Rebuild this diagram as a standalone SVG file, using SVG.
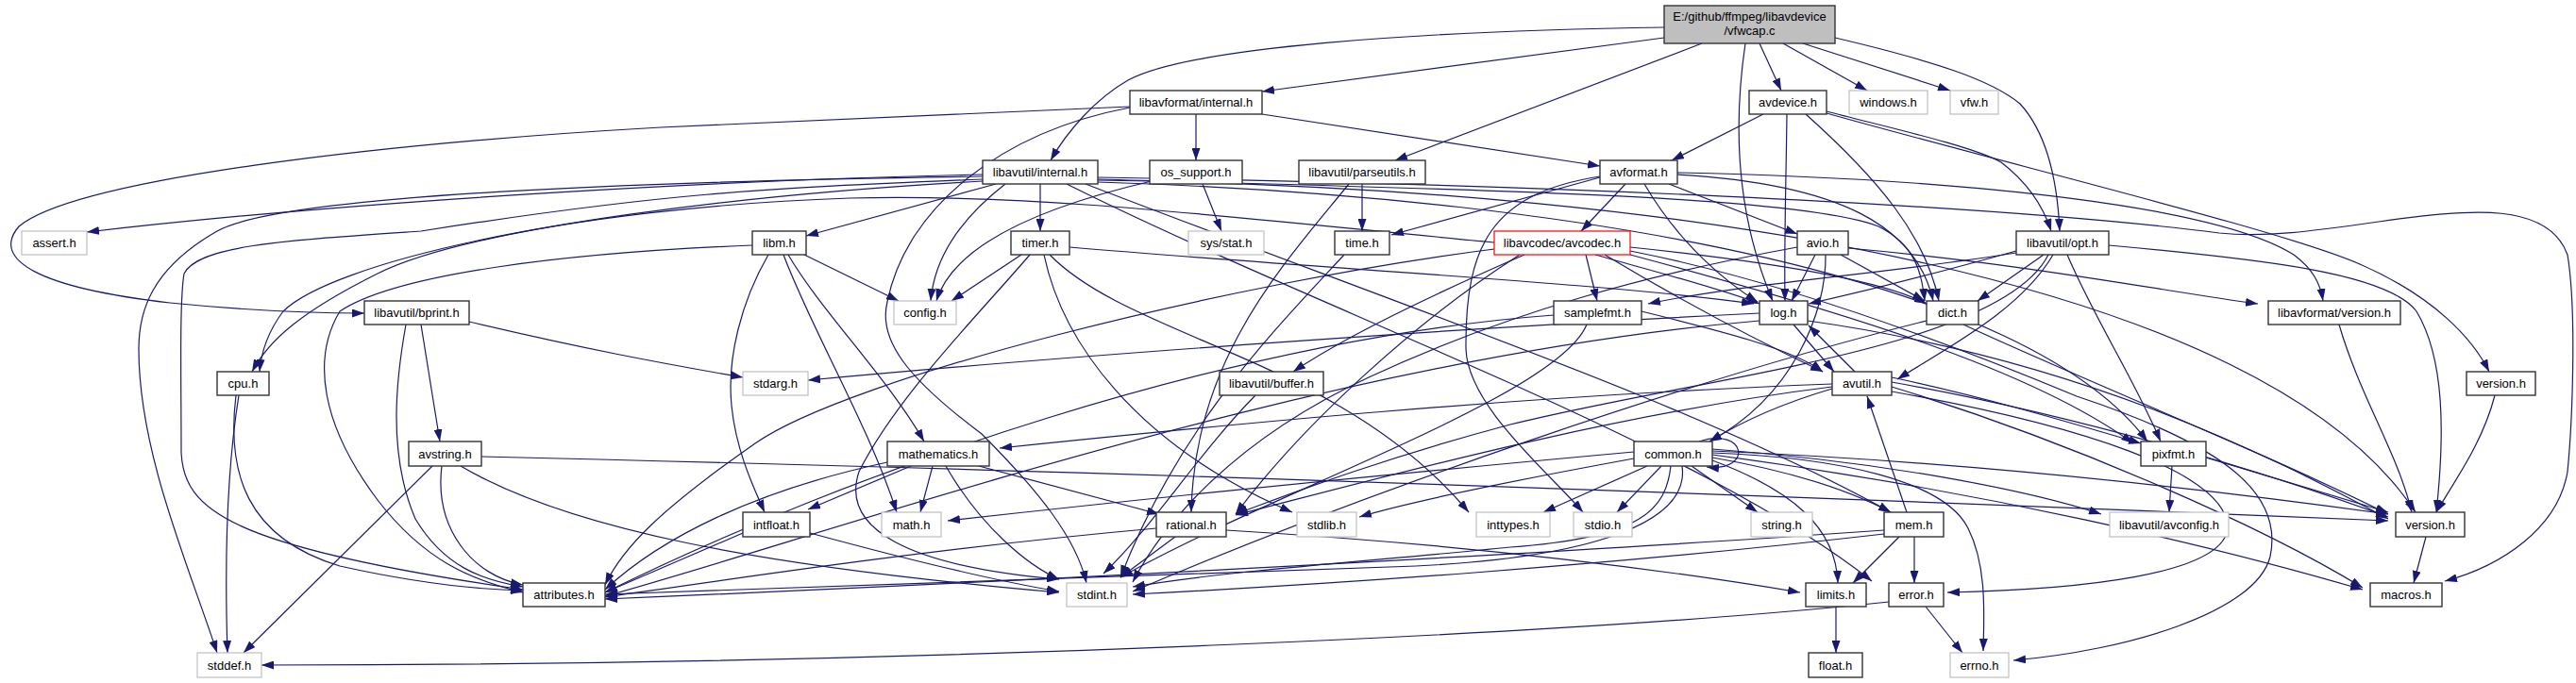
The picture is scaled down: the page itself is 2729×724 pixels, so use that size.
<svg xmlns="http://www.w3.org/2000/svg" width="2729" height="724" viewBox="0 0 2729 724">
<defs>
<marker id="a" viewBox="0 0 13 9" refX="13" refY="4.5" markerWidth="13" markerHeight="9" markerUnits="userSpaceOnUse" orient="auto"><path d="M0,0 L13,4.5 L0,9 Z" fill="#191970"/></marker>
<style>
.n rect{fill:#fff;stroke:#333;stroke-width:1.4}
.g rect{stroke:#bfbfbf;stroke-width:1.2}
.r rect{stroke:#ff0000;stroke-width:1.2}
.root rect{fill:#bfbfbf;stroke:#333;stroke-width:1.4}
text{font-family:"Liberation Sans",Arial,sans-serif;font-size:13px;fill:#000;text-anchor:middle}
.e path{fill:none;stroke:#191970;stroke-width:1.2;marker-end:url(#a)}
</style>
</defs>
<rect width="2729" height="724" fill="#fff"/>
<g id="edges" class="e">
<path d="M1763,40 L1337,97"/>
<path d="M1763,29 C1500,33 1260,50 1195,85 C1160,105 1130,140 1113,170"/>
<path d="M1803,46 L1478,170"/>
<path d="M1849,46 C1838,120 1836,220 1878,319"/>
<path d="M1864,46 L1887,96"/>
<path d="M1889,46 L1978,96"/>
<path d="M1910,46 L2066,96"/>
<path d="M1944,40 C2050,65 2110,85 2140,110 C2172,145 2180,200 2182,245"/>
<path d="M1197,113 L700,135 C400,152 80,190 20,240 C-10,275 40,305 180,321 C270,330 340,332 386,332"/>
<path d="M1197,114 C1060,140 960,220 940,320 C930,360 960,400 1040,460 C1100,520 1140,570 1151,618"/>
<path d="M1267,121 L1267,170"/>
<path d="M1337,121 L1695,176"/>
<path d="M1041,185 C800,190 400,210 92,246"/>
<path d="M1041,187 C700,192 300,205 230,245 C160,285 147,330 147,370 C147,480 200,600 230,692"/>
<path d="M1041,190 C800,200 700,205 446,245 C300,255 210,260 195,290 C190,320 192,400 192,480 C195,540 240,580 554,625"/>
<path d="M1041,192 C800,205 500,240 400,290 C320,330 285,360 267,394"/>
<path d="M1065,195 C1020,230 990,270 986,319"/>
<path d="M1102,195 L1102,245"/>
<path d="M1055,195 L854,250"/>
<path d="M1130,195 C1400,330 1800,470 1983,616"/>
<path d="M1163,190 C1500,200 1900,205 1990,240 C2030,260 2036,290 2039,319"/>
<path d="M1163,188 C1600,195 2100,215 2351,247 C2400,252 2450,245 2520,235 C2620,220 2700,215 2720,270 C2730,330 2725,450 2720,500 C2710,560 2650,600 2590,616"/>
<path d="M1150,195 C1500,330 1800,430 2003,543"/>
<path d="M1163,193 C1700,210 2150,300 2275,468"/>
<path d="M1163,191 C1800,200 2400,300 2559,543"/>
<path d="M1429,195 C1360,280 1265,380 1262,543"/>
<path d="M1443,195 L1443,245"/>
<path d="M1868,121 L1771,170"/>
<path d="M1893,121 C1892,200 1890,260 1891,319"/>
<path d="M1913,121 C1990,190 2040,250 2054,319"/>
<path d="M1935,118 C2000,135 2090,155 2120,172 C2150,195 2165,220 2173,245"/>
<path d="M1935,120 C2150,180 2420,245 2500,280 C2580,315 2620,360 2637,394"/>
<path d="M1220,192 C1100,220 1010,260 992,319"/>
<path d="M1274,195 L1294,245"/>
<path d="M1695,188 L1474,249"/>
<path d="M1695,187 C1580,205 1552,260 1553,370 C1555,430 1640,500 1677,543"/>
<path d="M1722,195 L1675,245"/>
<path d="M1777,185 C1950,195 2030,240 2048,319"/>
<path d="M1742,195 C1780,260 1830,300 1862,320"/>
<path d="M1768,195 L1904,248"/>
<path d="M1777,183 C2100,190 2350,220 2430,270 C2450,285 2458,300 2461,319"/>
<path d="M497,341 C620,370 700,385 787,400"/>
<path d="M430,344 C420,400 410,480 440,550 C470,600 510,615 554,622"/>
<path d="M446,344 L466,468"/>
<path d="M830,270 C860,350 920,450 950,543"/>
<path d="M852,270 L952,319"/>
<path d="M797,260 C600,268 420,290 360,330 C330,380 340,450 400,530 C450,595 500,615 554,628"/>
<path d="M814,270 C785,320 770,380 775,430 C780,480 800,520 810,543"/>
<path d="M835,270 C870,330 940,400 979,468"/>
<path d="M1082,270 L1008,319"/>
<path d="M1091,270 C1040,330 950,420 910,500 C890,560 960,600 1122,614"/>
<path d="M1106,270 C1125,360 1200,470 1369,543"/>
<path d="M1112,270 C1200,360 1420,380 1556,543"/>
<path d="M1133,262 C1400,285 1700,300 1858,322"/>
<path d="M1424,270 C1350,350 1250,450 1187,612"/>
<path d="M1727,266 C1900,300 2080,370 2200,420 C2350,470 2420,520 2405,590 C2390,650 2250,690 2133,700"/>
<path d="M1680,270 L1692,319"/>
<path d="M1583,264 C1300,300 900,400 800,470 C700,540 660,580 641,620"/>
<path d="M1700,270 C1800,330 1880,370 1931,394"/>
<path d="M1615,270 C1500,320 1420,360 1370,394"/>
<path d="M1583,257 C1300,230 1100,205 900,210 C600,220 350,280 300,330 C285,350 277,370 275,394"/>
<path d="M1727,262 C1900,280 2000,300 2041,322"/>
<path d="M1690,270 C1760,290 1820,305 1864,322"/>
<path d="M1727,270 C1950,330 2150,390 2260,470"/>
<path d="M1610,270 C1500,340 1380,450 1309,545"/>
<path d="M1904,262 C1750,290 1600,330 1450,400 C1300,470 1230,560 1200,617"/>
<path d="M1934,270 C1935,330 1900,420 1811,468"/>
<path d="M1950,270 L2039,319"/>
<path d="M1923,270 L1898,319"/>
<path d="M1958,263 C2150,280 2300,310 2392,322"/>
<path d="M2170,270 C2120,370 1800,400 1600,450 C1450,490 1350,530 1309,545"/>
<path d="M2175,270 C2140,330 2060,370 2010,402"/>
<path d="M2165,270 L2095,319"/>
<path d="M2136,266 C2050,290 1970,310 1916,322"/>
<path d="M2190,270 C2220,340 2260,400 2289,468"/>
<path d="M2136,268 C2000,290 1850,300 1746,322"/>
<path d="M2234,260 C2400,275 2530,290 2560,330 C2590,380 2590,460 2581,543"/>
<path d="M1864,332 C1500,350 1100,380 856,403"/>
<path d="M1900,344 L1943,394"/>
<path d="M1864,340 C1400,380 900,560 641,632"/>
<path d="M1915,340 C2200,380 2400,480 2530,550"/>
<path d="M2041,340 C1800,400 1450,520 1200,627"/>
<path d="M2080,344 C2200,400 2400,480 2530,545"/>
<path d="M1681,344 C1650,420 1350,520 1187,612"/>
<path d="M1739,330 C1820,350 1900,370 1931,394"/>
<path d="M1646,334 C1300,360 900,500 641,628"/>
<path d="M2478,344 C2500,420 2540,480 2555,543"/>
<path d="M253,419 C240,500 238,600 241,692"/>
<path d="M250,419 C240,500 260,570 360,600 C450,620 510,625 554,626"/>
<path d="M1330,419 C1270,480 1220,560 1169,608"/>
<path d="M1941,412 C1880,430 1840,450 1811,468"/>
<path d="M2004,415 C2200,450 2360,500 2360,560 C2355,610 2200,625 2063,628"/>
<path d="M1941,410 C1700,440 1450,510 1309,546"/>
<path d="M2004,405 C2200,440 2400,500 2530,548"/>
<path d="M2004,410 C2200,470 2400,560 2503,623"/>
<path d="M1941,407 C1600,420 1300,450 1059,475"/>
<path d="M1965,394 L1916,345"/>
<path d="M2004,400 C2100,420 2200,450 2268,470"/>
<path d="M2643,419 C2630,470 2600,510 2581,543"/>
<path d="M458,494 L258,692"/>
<path d="M468,494 C460,560 500,610 554,620"/>
<path d="M488,494 C600,560 800,600 1122,628"/>
<path d="M510,484 C1200,500 2000,530 2530,552"/>
<path d="M965,494 L856,540"/>
<path d="M988,494 L975,543"/>
<path d="M1002,494 C1040,560 1090,600 1122,614"/>
<path d="M1037,494 L1228,545"/>
<path d="M940,490 C800,520 700,570 641,625"/>
<path d="M1731,486 C1600,510 1500,530 1440,548"/>
<path d="M1745,494 L1635,543"/>
<path d="M1760,494 L1713,543"/>
<path d="M1792,494 L1862,543"/>
<path d="M1814,485 C1900,500 1960,520 2003,543"/>
<path d="M1814,488 C1900,520 1945,560 1947,618"/>
<path d="M1770,494 C1765,540 1740,570 1600,580 C1450,595 1300,605 1200,622"/>
<path d="M1782,494 C1790,550 1700,590 1500,600 C1100,615 800,625 641,630"/>
<path d="M1731,479 C1500,500 1200,530 1004,552"/>
<path d="M1814,480 C1950,485 2060,510 2085,560 C2105,600 2102,650 2101,690"/>
<path d="M1814,478 C2100,490 2350,520 2530,545"/>
<path d="M1814,476 C2000,490 2150,520 2226,545"/>
<path d="M1814,482 C2100,520 2350,580 2503,625"/>
<path d="M1800,468 C1850,452 1858,500 1808,495"/>
<path d="M2301,494 L2298,543"/>
<path d="M2337,485 L2530,543"/>
<path d="M858,565 C950,590 1050,615 1122,627"/>
<path d="M787,565 L641,628"/>
<path d="M1245,569 L1187,612"/>
<path d="M1299,562 C1600,580 1800,610 1907,628"/>
<path d="M1225,560 C1000,580 800,610 641,633"/>
<path d="M1996,562 C1600,590 1000,620 641,635"/>
<path d="M2028,569 L2028,618"/>
<path d="M2020,543 L1978,420"/>
<path d="M2012,569 L1963,618"/>
<path d="M1996,566 C1700,600 1400,620 1200,630"/>
<path d="M2570,569 L2557,618"/>
<path d="M1945,643 L1945,692"/>
<path d="M2040,643 L2079,692"/>
<path d="M2001,638 C1700,670 1000,705 277,705"/>
</g>
<g id="vfwcap" class="root"><rect x="1763" y="6" width="181" height="40"/><text x="1853.5" y="22">E:/github/ffmpeg/libavdevice</text><text x="1853.5" y="37">/vfwcap.c</text></g>
<g id="lfi" class="n"><rect x="1197" y="96" width="140" height="25"/><text x="1267" y="113">libavformat/internal.h</text></g>
<g id="avdevice" class="n"><rect x="1853" y="96" width="82" height="25"/><text x="1894" y="113">avdevice.h</text></g>
<g id="windows" class="n g"><rect x="1959" y="96" width="83" height="25"/><text x="2000.5" y="113">windows.h</text></g>
<g id="vfw" class="n g"><rect x="2066" y="96" width="51" height="25"/><text x="2091.5" y="113">vfw.h</text></g>
<g id="lui" class="n"><rect x="1041" y="170" width="122" height="25"/><text x="1102" y="187">libavutil/internal.h</text></g>
<g id="os_support" class="n"><rect x="1218" y="170" width="98" height="25"/><text x="1267" y="187">os_support.h</text></g>
<g id="parseutils" class="n"><rect x="1376" y="170" width="134" height="25"/><text x="1443" y="187">libavutil/parseutils.h</text></g>
<g id="avformat" class="n"><rect x="1695" y="170" width="82" height="25"/><text x="1736" y="187">avformat.h</text></g>
<g id="assert" class="n g"><rect x="23" y="245" width="69" height="25"/><text x="57.5" y="262">assert.h</text></g>
<g id="libm" class="n"><rect x="797" y="245" width="57" height="25"/><text x="825.5" y="262">libm.h</text></g>
<g id="timer" class="n"><rect x="1071" y="245" width="62" height="25"/><text x="1102" y="262">timer.h</text></g>
<g id="sysstat" class="n g"><rect x="1259" y="245" width="80" height="25"/><text x="1299" y="262">sys/stat.h</text></g>
<g id="time" class="n"><rect x="1414" y="245" width="58" height="25"/><text x="1443" y="262">time.h</text></g>
<g id="avcodec" class="n r"><rect x="1583" y="245" width="144" height="25"/><text x="1655" y="262">libavcodec/avcodec.h</text></g>
<g id="avio" class="n"><rect x="1904" y="245" width="54" height="25"/><text x="1931" y="262">avio.h</text></g>
<g id="opt" class="n"><rect x="2136" y="245" width="98" height="25"/><text x="2185" y="262">libavutil/opt.h</text></g>
<g id="bprint" class="n"><rect x="386" y="319" width="111" height="25"/><text x="441.5" y="336">libavutil/bprint.h</text></g>
<g id="config" class="n g"><rect x="947" y="319" width="66" height="25"/><text x="980" y="336">config.h</text></g>
<g id="samplefmt" class="n"><rect x="1646" y="319" width="93" height="25"/><text x="1692.5" y="336">samplefmt.h</text></g>
<g id="log" class="n"><rect x="1864" y="319" width="51" height="25"/><text x="1889.5" y="336">log.h</text></g>
<g id="dict" class="n"><rect x="2041" y="319" width="55" height="25"/><text x="2068.5" y="336">dict.h</text></g>
<g id="lfv" class="n"><rect x="2403" y="319" width="140" height="25"/><text x="2473" y="336">libavformat/version.h</text></g>
<g id="cpu" class="n"><rect x="230" y="394" width="55" height="25"/><text x="257.5" y="411">cpu.h</text></g>
<g id="stdarg" class="n g"><rect x="787" y="394" width="69" height="25"/><text x="821.5" y="411">stdarg.h</text></g>
<g id="buffer" class="n"><rect x="1292" y="394" width="110" height="25"/><text x="1347" y="411">libavutil/buffer.h</text></g>
<g id="avutil" class="n"><rect x="1941" y="394" width="63" height="25"/><text x="1972.5" y="411">avutil.h</text></g>
<g id="verdev" class="n"><rect x="2613" y="394" width="73" height="25"/><text x="2649.5" y="411">version.h</text></g>
<g id="avstring" class="n"><rect x="433" y="468" width="77" height="26"/><text x="471.5" y="485.5">avstring.h</text></g>
<g id="mathematics" class="n"><rect x="940" y="468" width="108" height="26"/><text x="994" y="485.5">mathematics.h</text></g>
<g id="common" class="n"><rect x="1731" y="468" width="83" height="26"/><text x="1772.5" y="485.5">common.h</text></g>
<g id="pixfmt" class="n"><rect x="2268" y="468" width="69" height="26"/><text x="2302.5" y="485.5">pixfmt.h</text></g>
<g id="intfloat" class="n"><rect x="787" y="543" width="71" height="26"/><text x="822.5" y="560.5">intfloat.h</text></g>
<g id="math" class="n g"><rect x="934" y="543" width="63" height="26"/><text x="965.5" y="560.5">math.h</text></g>
<g id="rational" class="n"><rect x="1225" y="543" width="74" height="26"/><text x="1262" y="560.5">rational.h</text></g>
<g id="stdlib" class="n g"><rect x="1374" y="543" width="63" height="26"/><text x="1405.5" y="560.5">stdlib.h</text></g>
<g id="inttypes" class="n g"><rect x="1564" y="543" width="78" height="26"/><text x="1603" y="560.5">inttypes.h</text></g>
<g id="stdio" class="n g"><rect x="1667" y="543" width="62" height="26"/><text x="1698" y="560.5">stdio.h</text></g>
<g id="string" class="n g"><rect x="1855" y="543" width="65" height="26"/><text x="1887.5" y="560.5">string.h</text></g>
<g id="mem" class="n"><rect x="1996" y="543" width="63" height="26"/><text x="2027.5" y="560.5">mem.h</text></g>
<g id="avconfig" class="n g"><rect x="2235" y="543" width="126" height="26"/><text x="2298" y="560.5">libavutil/avconfig.h</text></g>
<g id="verutil" class="n"><rect x="2538" y="543" width="73" height="26"/><text x="2574.5" y="560.5">version.h</text></g>
<g id="attributes" class="n"><rect x="554" y="618" width="87" height="25"/><text x="597.5" y="635">attributes.h</text></g>
<g id="stdint" class="n g"><rect x="1130" y="618" width="64" height="25"/><text x="1162" y="635">stdint.h</text></g>
<g id="limits" class="n"><rect x="1913" y="618" width="64" height="25"/><text x="1945" y="635">limits.h</text></g>
<g id="error" class="n"><rect x="2001" y="618" width="58" height="25"/><text x="2030" y="635">error.h</text></g>
<g id="macros" class="n"><rect x="2511" y="618" width="76" height="25"/><text x="2549" y="635">macros.h</text></g>
<g id="stddef" class="n g"><rect x="209" y="692" width="68" height="26"/><text x="243" y="709.5">stddef.h</text></g>
<g id="float" class="n"><rect x="1916" y="692" width="57" height="26"/><text x="1944.5" y="709.5">float.h</text></g>
<g id="errno" class="n g"><rect x="2066" y="692" width="62" height="26"/><text x="2097" y="709.5">errno.h</text></g>
</svg>
